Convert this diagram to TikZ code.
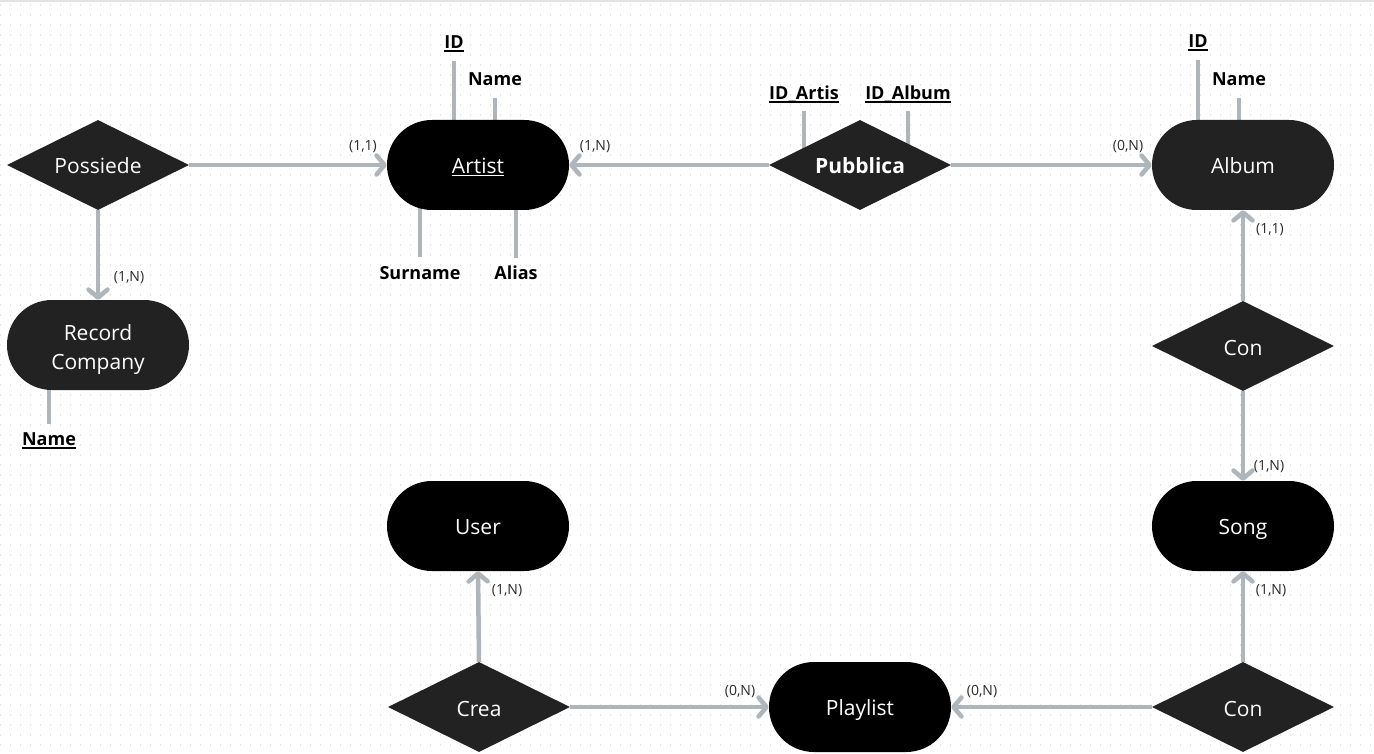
\documentclass[tikz,border=0pt]{standalone}
\usepackage{fontspec}
\setmainfont{Open Sans}
\usetikzlibrary{shapes.geometric,arrows.meta}
\definecolor{connc}{HTML}{AEB6BC}
\definecolor{darkf}{HTML}{222222}
\definecolor{cardc}{HTML}{2A2A2A}
\definecolor{gridc}{HTML}{E3E3E3}
\pgfdeclarelayer{bg}
\pgfsetlayers{bg,main}
\newcommand\ulin[1]{\leavevmode\setbox0=\hbox{#1}\rlap{\rule[-3pt]{\wd0}{1.6pt}}\box0}
\begin{document}
\begin{tikzpicture}[x=1pt,y=-1pt,
  ent/.style={rectangle, rounded corners=44.9pt, minimum width=182pt, minimum height=90pt,
    inner sep=0pt, text=white, text height=21pt, text depth=4pt, font=\fontsize{21}{29}\selectfont},
  rel/.style={diamond, aspect=2, minimum width=182pt, minimum height=90pt, inner sep=0pt,
    fill=darkf, text=white, text height=21pt, text depth=3pt, font=\fontsize{21}{25}\selectfont},
  attr/.style={inner sep=0pt, text height=13pt, text depth=3.5pt, text=black,
    font=\fontsize{18}{22}\selectfont\bfseries},
  card/.style={inner sep=0pt, text=cardc, font=\fontsize{14}{16}\selectfont},
  conn/.style={draw=connc, line width=4.5pt, -{Straight Barb[length=8pt,width=19pt,round]}},
  attrline/.style={draw=connc, line width=4.5pt}]
\useasboundingbox (0,0) rectangle (1374,754);

% entities and relations
\node[rel] (possiede) at (98,165) {Possiede};
\node[ent, fill=black] (artist) at (478,165) {\ulin{Artist}};
\node[rel, font=\fontsize{21}{25}\selectfont\bfseries] (pubblica) at (860,165) {Pubblica};
\node[ent, fill=darkf] (album) at (1243,165) {Album};
\node[rel] (con1) at (1243,346) {Con};
\node[ent, fill=black] (song) at (1243,526) {Song};
\node[rel] (con2) at (1243,707) {Con};
\node[ent, fill=black] (playlist) at (860,707) {Playlist};
\node[rel] (crea) at (479,707) {Crea};
\node[ent, fill=black] (user) at (478,526) {User};
\node[rectangle, rounded corners=44.9pt, minimum width=182pt, minimum height=90pt, inner sep=0pt,
  fill=darkf,
  label={[text=white, align=center, font=\fontsize{21}{29}\selectfont, yshift=-5pt]center:Record\\Company}]
  (rc) at (98,345) {};

% attributes
\node[attr] (aid) at (454,44) {\ulin{ID}};
\node[attr] (aname) at (495,81) {Name};
\node[attr] (asurname) at (420,275) {Surname};
\node[attr] (aalias) at (516,275) {Alias};
\node[attr] (pidar) at (804,95) {\ulin{ID\_Artis}};
\node[attr] (pidal) at (908,95) {\ulin{ID\_Album}};
\node[attr] (alid) at (1198,43) {\ulin{ID}};
\node[attr] (alname) at (1239,81) {Name};
\node[attr] (rcname) at (49,441) {\ulin{Name}};

% cardinalities
\node[card] (c1) at (363,146.5) {(1,1)};
\node[card] (c2) at (129,277.5) {(1,N)};
\node[card] (c3) at (595,146.5) {(1,N)};
\node[card] (c4) at (1128,146.5) {(0,N)};
\node[card] (c5) at (1270,229.5) {(1,1)};
\node[card] (c6) at (1269,466.5) {(1,N)};
\node[card] (c7) at (1271,590.5) {(1,N)};
\node[card] (c8) at (982,691.5) {(0,N)};
\node[card] (c9) at (740,691.5) {(0,N)};
\node[card] (c10) at (507,590.5) {(1,N)};

\begin{pgfonlayer}{bg}
  \fill[white] (0,0) rectangle (1374,754);
  \foreach \yy in {5,15,...,750}
    \draw[gridc, line width=1.2pt, dash pattern=on 1.2pt off 8.8pt] (0,\yy) -- (1374,\yy);
  \draw[gridc, line width=1.5pt] (0,1) -- (1374,1);
  % attribute lines
  \draw[attrline, shorten <=9pt] (aid.south) -- (aid.south |- artist.center);
  \draw[attrline, shorten <=9pt] (aname.south) -- (aname.south |- artist.center);
  \draw[attrline, shorten >=10pt] (asurname.north |- artist.center) -- (asurname.north);
  \draw[attrline, shorten >=9pt] (aalias.north |- artist.center) -- (aalias.north);
  \draw[attrline, shorten <=8pt] (pidar.south) -- (pidar.south |- pubblica.center);
  \draw[attrline, shorten <=8pt] (pidal.south) -- (pidal.south |- pubblica.center);
  \draw[attrline, shorten <=9pt] (alid.south) -- (alid.south |- album.center);
  \draw[attrline, shorten <=9pt] (alname.south) -- (alname.south |- album.center);
  \draw[attrline, shorten >=9pt] (rcname.north |- rc.center) -- (rcname.north);
\end{pgfonlayer}

% connectors
\draw[conn] (possiede.east) -- (artist.west);
\draw[conn] (possiede.south) -- (rc.north);
\draw[conn] (pubblica.west) -- (artist.east);
\draw[conn] (pubblica.east) -- (album.west);
\draw[conn] (con1.north) -- (album.south);
\draw[conn] (con1.south) -- (song.north);
\draw[conn] (con2.north) -- (song.south);
\draw[conn] (con2.west) -- (playlist.east);
\draw[conn] (crea.east) -- (playlist.west);
\draw[conn] (crea.north) -- (user.south);
\end{tikzpicture}
\end{document}
